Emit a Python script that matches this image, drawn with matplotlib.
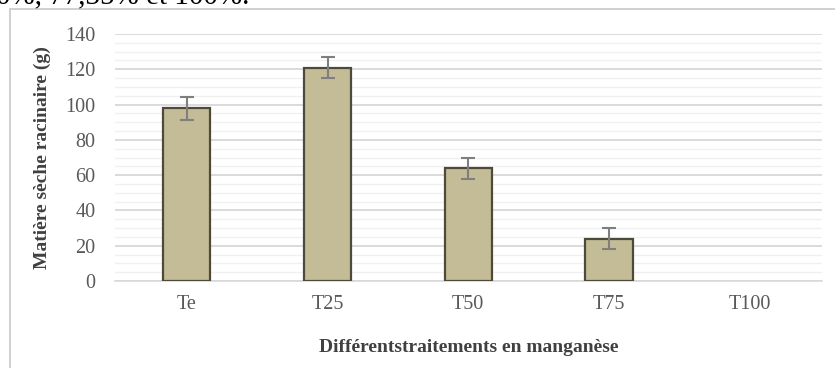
import numpy as np
import matplotlib.pyplot as plt
from matplotlib.patches import Rectangle

# data
categories = ['Te', 'T25', 'T50', 'T75', 'T100']
values = [98, 121, 64, 24, 0]
errors = [6.5, 6, 6, 6, 0]

plt.rcParams['font.family'] = ['Liberation Serif', 'DejaVu Serif']

fig = plt.figure(figsize=(8.35, 3.68), dpi=100)
ax = fig.add_axes([0.1377, 0.2364, 0.8463, 0.6712])

# caption line above the chart, cut off by the crop
fig.text(-0.005, 1 - 3.5 / 368, '0%, 77,35% et 100%.', fontsize=21, color='black',
         ha='left', va='baseline')

# chart frame (Excel-style outer border)
frame = Rectangle((10 / 835, -0.1), 1.2, 1 - 9 / 368 + 0.1, transform=fig.transFigure,
                  fill=False, edgecolor='#c8c8c8', linewidth=1.2)
fig.patches.append(frame)

x = np.arange(len(categories))
vals = np.array(values, dtype=float)
errs = np.array(errors, dtype=float)
shown = vals > 0
ax.bar(x[shown], vals[shown], width=0.335, color='#c4bc96', edgecolor='#4d4a3c',
       linewidth=1.6, zorder=3)
ax.errorbar(x[shown], vals[shown], yerr=errs[shown], fmt='none', ecolor='#7f7f7f',
            elinewidth=1.5, capsize=5, capthick=1.5, zorder=4)

ax.set_ylim(0, 140)
ax.set_xlim(-0.51, 4.51)
ax.set_yticks(np.arange(0, 141, 20))
ax.set_yticks(np.arange(0, 141, 5), minor=True)
ax.grid(axis='y', which='major', color='#dadada', linewidth=1.4, zorder=0)
ax.grid(axis='y', which='minor', color='#f0f0f0', linewidth=1.0, zorder=0)
ax.set_axisbelow(True)

ax.set_xticks(x)
ax.set_xticklabels(categories)
ax.tick_params(axis='both', which='both', length=0, labelsize=14.5, colors='#595959')
ax.tick_params(axis='y', pad=14)
ax.tick_params(axis='x', pad=10)

for s in ['top', 'right', 'left']:
    ax.spines[s].set_visible(False)
ax.spines['bottom'].set_color('#d9d9d9')
ax.spines['bottom'].set_linewidth(1.2)

ax.set_ylabel('Matière sèche racinaire (g)', fontsize=14, fontweight='bold',
              color='#404040', labelpad=10)
ax.set_xlabel('Différentstraitements en manganèse', fontsize=14, fontweight='bold',
              color='#404040', labelpad=18)

fig.savefig('out.png', dpi=100)
